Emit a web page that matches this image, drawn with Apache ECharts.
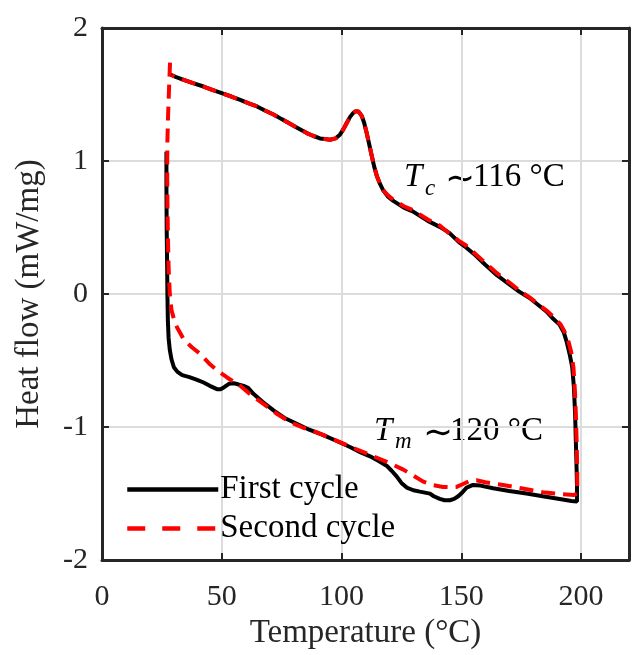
<!DOCTYPE html>
<html>
<head>
<meta charset="utf-8">
<script src="https://cdn.jsdelivr.net/npm/echarts@6/dist/echarts.min.js"></script>
<style>html,body{margin:0;padding:0;background:#fff}#c{width:633px;height:655px}</style>
</head>
<body>
<div id="c"></div>
<script>
// Temperature (°C) and heat flow (mW/mg)
const firstT = [26.9,26.9,27.0,27.2,27.3,27.5,27.8,28.3,29.0,30.0,31.5,33.5,36.5,39.7,42.4,45,48,49.5,51,53,55,57,59.1,61,63.2,67,71.6,76,81.3,86.5,92.4,98,103.5,108,111.9,115.5,118.8,121,123,125,127.2,130,132.7,136.9,138.5,141,143,145.2,147,148.7,150.5,152.2,154.9,158,163.3,170,177.2,184,191,196,198.3,
  198.3,198.1,197.8,197.5,197.0,196.3,195.2,194.0,192.8,191,188,185.5,182,178.5,174,170.2,165,160,156,152,149,145,141,136,129.9,126,121.6,119.5,117.4,116,114.7,113.6,112.6,111.5,110.5,109.4,108.4,107.2,106,104.8,103.5,102,100.8,99.4,97.5,95.2,93,91,88,85.5,82,78.5,75,71.6,68,64.7,61,57.7,54,50,46,42.4,38,34.1,31,29.2,28.6];
const firstH = [1.07,0.8,0.5,0.2,0.0,-0.2,-0.33,-0.42,-0.49,-0.55,-0.585,-0.61,-0.625,-0.645,-0.665,-0.69,-0.715,-0.715,-0.70,-0.675,-0.67,-0.68,-0.69,-0.705,-0.75,-0.81,-0.875,-0.93,-0.975,-1.02,-1.06,-1.105,-1.15,-1.19,-1.22,-1.255,-1.29,-1.33,-1.37,-1.42,-1.455,-1.475,-1.485,-1.50,-1.52,-1.54,-1.55,-1.55,-1.54,-1.52,-1.49,-1.455,-1.435,-1.44,-1.46,-1.48,-1.50,-1.52,-1.54,-1.555,-1.56,
  -1.45,-1.3,-1.1,-0.9,-0.7,-0.55,-0.45,-0.36,-0.29,-0.23,-0.18,-0.13,-0.08,-0.03,0.02,0.07,0.14,0.22,0.29,0.35,0.39,0.46,0.505,0.55,0.62,0.65,0.70,0.73,0.78,0.83,0.89,0.96,1.04,1.13,1.21,1.29,1.34,1.37,1.375,1.36,1.33,1.28,1.24,1.20,1.17,1.16,1.165,1.17,1.19,1.21,1.245,1.28,1.315,1.35,1.38,1.41,1.435,1.46,1.485,1.51,1.535,1.56,1.585,1.61,1.63,1.645,1.65];
const secondT = [28.4,28.0,27.6,27.3,27.2,27.3,27.5,27.8,28.3,29.0,30.2,31.3,34.1,37.5,41,45.2,48.5,52.2,57.7,62,67.4,73,78.5,84,89.7,95,100.8,106,113.3,120,125.8,130,134.1,138,142.4,146,148,150.5,153.5,156.3,160,167.4,175,184,192.4,197,198.4,
  198.4,198.2,197.9,197.5,196.8,195.8,194.5,193,191.5,189,186,182,178.5,174,170.2,165,160,156,152,149,145,141,136,129.9,126,121.6,119.5,117.4,116,114.7,113.6,112.6,111.5,110.5,109.4,108.4,107.2,106,104.8,103.5,102,100.8,99.4,97.5,95.2,93,91,88,85.5,82,78.5,75,71.6,68,64.7,61,57.7,54,50,46,42.4,38,34.1,31,29.2];
const secondH = [1.74,1.55,1.35,1.15,0.95,0.7,0.45,0.2,0.0,-0.12,-0.2,-0.25,-0.34,-0.40,-0.45,-0.53,-0.58,-0.627,-0.69,-0.755,-0.826,-0.90,-0.963,-1.005,-1.04,-1.08,-1.125,-1.165,-1.22,-1.27,-1.32,-1.365,-1.41,-1.435,-1.45,-1.452,-1.45,-1.43,-1.405,-1.40,-1.415,-1.435,-1.46,-1.49,-1.505,-1.51,-1.50,
  -1.35,-1.15,-0.95,-0.75,-0.55,-0.43,-0.34,-0.28,-0.23,-0.18,-0.13,-0.075,-0.025,0.03,0.085,0.155,0.235,0.30,0.365,0.40,0.455,0.515,0.56,0.63,0.66,0.71,0.74,0.78,0.83,0.89,0.96,1.04,1.13,1.21,1.29,1.34,1.37,1.375,1.36,1.33,1.28,1.24,1.20,1.17,1.16,1.165,1.17,1.19,1.21,1.245,1.28,1.315,1.35,1.38,1.41,1.435,1.46,1.485,1.51,1.535,1.56,1.585,1.61,1.63,1.645];
const seriesNames = ['First cycle','Second cycle'];
const xTicks = [0,50,100,150,200];
const yTicks = [-2,-1,0,1,2];

const FONT = "'Liberation Serif','DejaVu Serif',serif";
const AX = '#262626';
const zip = (a,b) => a.map((v,i)=>[v,b[i]]);

const chart = echarts.init(document.getElementById('c'), null, {renderer:'canvas'});
const axisCommon = {
  axisLine:{show:true, onZero:false, lineStyle:{color:AX, width:3}},
  axisTick:{show:true, inside:true, length:7, lineStyle:{color:AX, width:2}},
};
chart.setOption({
  animation:false,
  backgroundColor:'#fff',
  grid:{left:102, right:4, top:28, bottom:91, containLabel:false},
  legend:{
    data:[
      {name:seriesNames[0], lineStyle:{width:4.5}},
      {name:seriesNames[1], lineStyle:{width:4.5, type:[18,17]}}
    ],
    orient:'vertical', left:120, top:467,
    itemWidth:91, itemHeight:16, itemGap:4,
    itemStyle:{opacity:0},
    textStyle:{fontFamily:FONT, fontSize:33, color:'#000', lineHeight:35, padding:[0,0,0,-3]}
  },
  xAxis:[
    Object.assign({type:'value', min:0, max:220, interval:50, position:'bottom',
      name:'Temperature (°C)', nameLocation:'middle', nameGap:54,
      nameTextStyle:{fontFamily:FONT, fontSize:33, color:AX},
      axisLabel:{fontFamily:FONT, fontSize:30, color:AX, margin:22, showMaxLabel:false,
        formatter:v => xTicks.includes(v) ? String(v) : ''},
      splitLine:{show:true, lineStyle:{color:'#dcdcdc', width:2}}}, axisCommon),
    Object.assign({type:'value', min:0, max:220, interval:50, position:'top',
      axisLabel:{show:false}, splitLine:{show:false}}, axisCommon)
  ],
  yAxis:[
    Object.assign({type:'value', min:-2, max:2, interval:1, position:'left',
      name:'Heat flow (mW/mg)', nameLocation:'middle', nameGap:56,
      nameTextStyle:{fontFamily:FONT, fontSize:33, color:AX},
      axisLabel:{fontFamily:FONT, fontSize:30, color:AX, margin:14,
        formatter:v => yTicks.includes(v) ? String(v) : ''},
      splitLine:{show:true, lineStyle:{color:'#dcdcdc', width:2}}}, axisCommon),
    Object.assign({type:'value', min:-2, max:2, interval:1, position:'right',
      axisLabel:{show:false}, splitLine:{show:false}}, axisCommon)
  ],
  series:[
    {name:seriesNames[0], type:'line', data:zip(firstT, firstH), showSymbol:false, symbol:'none',
      lineStyle:{color:'#000', width:4}, itemStyle:{color:'#000'}, z:3},
    {name:seriesNames[1], type:'line', data:zip(secondT, secondH), showSymbol:false, symbol:'none',
      lineStyle:{color:'#ff0000', width:4, type:[14,8]}, itemStyle:{color:'#ff0000'}, z:4}
  ],
  graphic:[
    {type:'text', left:404, top:161, style:{text:'T', font:"italic 33px "+FONT, fill:'#000'}},
    {type:'text', left:425, top:177, style:{text:'c', font:"italic 23px "+FONT, fill:'#000'}},
    {type:'text', left:445, top:163, style:{text:'∼', font:"36px 'DejaVu Sans'", fill:'#000'}},
    {type:'text', left:473, top:161, style:{text:'116 °C', font:"33px "+FONT, fill:'#000'}},
    {type:'text', left:374, top:415, style:{text:'T', font:"italic 33px "+FONT, fill:'#000'}},
    {type:'text', left:395, top:430, style:{text:'m', font:"italic 23px "+FONT, fill:'#000'}},
    {type:'text', left:423, top:417, style:{text:'∼', font:"36px 'DejaVu Sans'", fill:'#000'}},
    {type:'text', left:450, top:415, style:{text:'120 °C', font:"33px "+FONT, fill:'#000'}}
  ]
});
</script>
</body>
</html>
